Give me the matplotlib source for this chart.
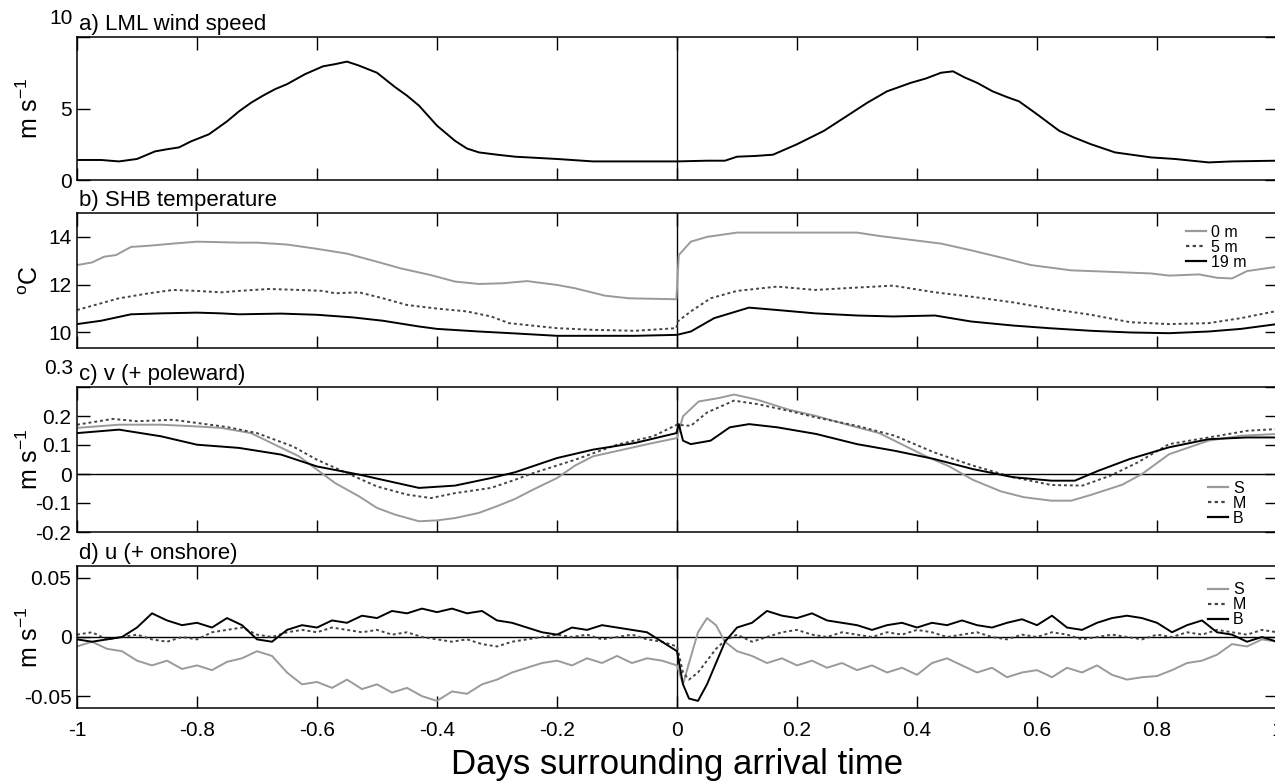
import matplotlib
matplotlib.use('Agg')
import matplotlib.pyplot as plt
import numpy as np

plt.rcParams['font.family'] = ['Liberation Sans', 'DejaVu Sans']
plt.rcParams['mathtext.default'] = 'regular'

# ---- a) LML wind speed (m/s)
wind_x = [-1.0, -0.96, -0.93, -0.9, -0.87, -0.85, -0.83, -0.81, -0.78, -0.75, -0.73, -0.71,
          -0.69, -0.67, -0.65, -0.62, -0.59, -0.57, -0.55, -0.53, -0.5, -0.47, -0.45, -0.43,
          -0.4, -0.37, -0.35, -0.33, -0.3, -0.27, -0.2, -0.14, -0.07, 0.0, 0.05, 0.08, 0.1,
          0.13, 0.16, 0.2, 0.245, 0.284, 0.317, 0.35, 0.39, 0.415, 0.44, 0.46, 0.48, 0.5,
          0.526, 0.55, 0.57, 0.6, 0.637, 0.66, 0.69, 0.73, 0.79, 0.83, 0.886, 0.925, 1.0]
wind = [1.4, 1.4, 1.3, 1.47, 2.0, 2.15, 2.28, 2.7, 3.2, 4.1, 4.8, 5.4,
        5.9, 6.35, 6.7, 7.4, 7.95, 8.1, 8.28, 8.0, 7.5, 6.5, 5.9, 5.2,
        3.8, 2.74, 2.2, 1.93, 1.77, 1.63, 1.47, 1.3, 1.3, 1.3, 1.35, 1.35, 1.63,
        1.68, 1.77, 2.5, 3.44, 4.5, 5.4, 6.2, 6.8, 7.1, 7.5, 7.6, 7.16, 6.8,
        6.2, 5.8, 5.5, 4.6, 3.44, 3.0, 2.5, 1.93, 1.58, 1.47, 1.23, 1.3, 1.35]

# ---- b) SHB temperature (deg C)
t0_x = [-1.0, -0.975, -0.955, -0.935, -0.91, -0.88, -0.84, -0.8, -0.73, -0.7, -0.65, -0.6,
        -0.55, -0.5, -0.46, -0.41, -0.37, -0.33, -0.29, -0.25, -0.2, -0.17, -0.12, -0.08, -0.001,
        0.003, 0.023, 0.05, 0.1, 0.167, 0.23, 0.3, 0.337, 0.395, 0.44, 0.49, 0.546, 0.59,
        0.657, 0.72, 0.79, 0.82, 0.87, 0.9, 0.925, 0.95, 1.0]
t0 = [12.82, 12.93, 13.17, 13.24, 13.58, 13.63, 13.72, 13.8, 13.76, 13.76, 13.68, 13.5,
      13.3, 12.96, 12.68, 12.4, 12.13, 12.03, 12.06, 12.15, 11.99, 11.85, 11.54, 11.43, 11.39,
      13.24, 13.8, 14.0, 14.18, 14.18, 14.18, 14.18, 14.04, 13.86, 13.72, 13.44, 13.1, 12.82,
      12.6, 12.54, 12.47, 12.38, 12.43, 12.29, 12.26, 12.57, 12.75]

t5_x = [-1.0, -0.93, -0.88, -0.84, -0.8, -0.76, -0.73, -0.68, -0.63, -0.59, -0.57, -0.53,
        -0.49, -0.45, -0.4, -0.35, -0.31, -0.28, -0.2, -0.14, -0.07, -0.001,
        0.001, 0.023, 0.056, 0.1, 0.167, 0.23, 0.3, 0.36, 0.43, 0.49, 0.56, 0.62, 0.69,
        0.755, 0.82, 0.886, 0.94, 1.0]
t5 = [10.94, 11.43, 11.64, 11.78, 11.74, 11.68, 11.74, 11.82, 11.78, 11.74, 11.64, 11.68,
      11.43, 11.15, 11.0, 10.88, 10.67, 10.39, 10.18, 10.11, 10.07, 10.18,
      10.46, 10.88, 11.43, 11.74, 11.92, 11.78, 11.88, 11.96, 11.68, 11.5, 11.26, 11.0, 10.74,
      10.43, 10.35, 10.39, 10.6, 10.9]

t19_x = [-1.0, -0.96, -0.91, -0.86, -0.8, -0.76, -0.73, -0.66, -0.6, -0.54, -0.49, -0.43,
         -0.4, -0.33, -0.27, -0.2, -0.14, -0.07, 0.0, 0.023, 0.062, 0.12, 0.167, 0.23, 0.3,
         0.36, 0.43, 0.49, 0.56, 0.62, 0.69, 0.755, 0.82, 0.886, 0.94, 1.0]
t19 = [10.35, 10.49, 10.76, 10.8, 10.83, 10.8, 10.76, 10.79, 10.74, 10.63, 10.49, 10.25,
       10.15, 10.04, 9.96, 9.86, 9.86, 9.86, 9.9, 10.04, 10.6, 11.04, 10.94, 10.8, 10.71,
       10.67, 10.71, 10.46, 10.29, 10.18, 10.07, 10.0, 9.97, 10.04, 10.15, 10.35]

# ---- c) v (+ poleward), m/s
vs_x = [-1.0, -0.93, -0.86, -0.8, -0.76, -0.71, -0.67, -0.63, -0.6, -0.57, -0.53, -0.5,
        -0.47, -0.43, -0.4, -0.37, -0.33, -0.3, -0.27, -0.24, -0.2, -0.17, -0.14, -0.09,
        -0.04, 0.0, 0.01, 0.036, 0.07, 0.095, 0.134, 0.186, 0.232, 0.284, 0.337, 0.376,
        0.415, 0.454, 0.493, 0.54, 0.578, 0.624, 0.657, 0.69, 0.742, 0.775, 0.82, 0.886,
        0.94, 1.0]
vs = [0.159, 0.17, 0.17, 0.164, 0.159, 0.141, 0.101, 0.061, 0.015, -0.031, -0.077, -0.117,
      -0.14, -0.163, -0.16, -0.152, -0.134, -0.111, -0.086, -0.054, -0.014, 0.029, 0.061, 0.084,
      0.107, 0.124, 0.199, 0.25, 0.262, 0.274, 0.256, 0.222, 0.2, 0.17, 0.141, 0.101,
      0.061, 0.026, -0.02, -0.06, -0.08, -0.092, -0.092, -0.072, -0.037, 0.0, 0.068, 0.115,
      0.132, 0.138]

vm_x = [-1.0, -0.94, -0.9, -0.84, -0.8, -0.75, -0.7, -0.64, -0.6, -0.55, -0.5, -0.45,
        -0.41, -0.37, -0.31, -0.27, -0.24, -0.17, -0.1, -0.04, 0.0, 0.023, 0.05, 0.095,
        0.134, 0.186, 0.232, 0.3, 0.363, 0.428, 0.493, 0.56, 0.624, 0.676, 0.722, 0.768,
        0.82, 0.886, 0.95, 1.0]
vm = [0.17, 0.19, 0.182, 0.187, 0.176, 0.162, 0.141, 0.095, 0.049, 0.003, -0.043, -0.071,
      -0.083, -0.066, -0.048, -0.02, 0.003, 0.049, 0.101, 0.13, 0.17, 0.166, 0.212, 0.253,
      0.241, 0.218, 0.195, 0.166, 0.132, 0.075, 0.029, -0.011, -0.038, -0.04, -0.006, 0.04,
      0.103, 0.126, 0.149, 0.155]

vb_x = [-1.0, -0.93, -0.86, -0.8, -0.73, -0.66, -0.6, -0.53, -0.48, -0.43, -0.37, -0.31,
        -0.27, -0.2, -0.14, -0.07, -0.001, 0.003, 0.01, 0.023, 0.056, 0.088, 0.12, 0.167,
        0.232, 0.3, 0.363, 0.428, 0.493, 0.56, 0.624, 0.663, 0.702, 0.755, 0.82, 0.886,
        0.95, 1.0]
vb = [0.141, 0.153, 0.13, 0.101, 0.09, 0.067, 0.026, -0.002, -0.025, -0.048, -0.04, -0.014,
      0.006, 0.055, 0.084, 0.107, 0.141, 0.172, 0.115, 0.103, 0.115, 0.161, 0.172, 0.161,
      0.138, 0.103, 0.08, 0.052, 0.017, -0.011, -0.023, -0.023, 0.011, 0.052, 0.092, 0.12,
      0.126, 0.126]

# ---- d) u (+ onshore), m/s
u_x = [-1.0, -0.975, -0.95, -0.925, -0.9, -0.875, -0.85, -0.825, -0.8, -0.775, -0.75,
       -0.725, -0.7, -0.675, -0.65, -0.625, -0.6, -0.575, -0.55, -0.525, -0.5, -0.475,
       -0.45, -0.425, -0.4, -0.375, -0.35, -0.325, -0.3, -0.275, -0.25, -0.225, -0.2,
       -0.175, -0.15, -0.125, -0.1, -0.075, -0.05, -0.025, 0.0,
       0.01, 0.02, 0.035, 0.05, 0.065, 0.08,
       0.1, 0.125, 0.15, 0.175, 0.2, 0.225, 0.25, 0.275, 0.3, 0.325, 0.35, 0.375, 0.4,
       0.425, 0.45, 0.475, 0.5, 0.525, 0.55, 0.575, 0.6, 0.625, 0.65, 0.675, 0.7, 0.725,
       0.75, 0.775, 0.8, 0.825, 0.85, 0.875, 0.9, 0.925, 0.95, 0.975, 1.0]
us = [-0.008, -0.004, -0.010, -0.012, -0.020, -0.024, -0.020, -0.027, -0.024, -0.028, -0.021,
      -0.018, -0.012, -0.016, -0.030, -0.040, -0.038, -0.043, -0.036, -0.044, -0.040, -0.047,
      -0.043, -0.050, -0.054, -0.046, -0.048, -0.040, -0.036, -0.030, -0.026, -0.022, -0.020,
      -0.024, -0.018, -0.022, -0.016, -0.022, -0.018, -0.020, -0.024,
      -0.040, -0.022, 0.004, 0.016, 0.010, -0.004,
      -0.012, -0.016, -0.022, -0.018, -0.024, -0.020, -0.026, -0.022, -0.028, -0.024, -0.030,
      -0.026, -0.032, -0.022, -0.018, -0.024, -0.030, -0.026, -0.034, -0.030, -0.028, -0.034,
      -0.026, -0.030, -0.024, -0.032, -0.036, -0.034, -0.033, -0.028, -0.022, -0.020, -0.015,
      -0.006, -0.008, -0.002, -0.004]
um = [0.002, 0.004, -0.002, 0.000, 0.002, -0.002, -0.004, 0.000, -0.002, 0.004, 0.006,
      0.008, 0.002, 0.000, 0.004, 0.006, 0.004, 0.008, 0.006, 0.004, 0.006, 0.002,
      0.004, 0.000, -0.002, -0.004, -0.002, -0.006, -0.008, -0.004, -0.002, 0.000, 0.002,
      0.000, 0.002, -0.002, 0.000, 0.002, -0.002, -0.004, -0.008,
      -0.030, -0.036, -0.030, -0.020, -0.010, -0.003,
      0.002, -0.004, 0.000, 0.004, 0.006, 0.002, 0.000, 0.004, 0.002, 0.000, 0.004,
      0.002, 0.006, 0.004, 0.000, 0.002, 0.004, 0.000, -0.002, 0.002, 0.000, 0.004,
      0.002, -0.002, 0.000, 0.002, 0.000, -0.002, 0.002, 0.000, 0.004, 0.002, 0.006,
      0.004, 0.002, 0.006, 0.004]
ub = [-0.002, -0.004, -0.002, 0.000, 0.008, 0.020, 0.014, 0.010, 0.012, 0.008, 0.016,
      0.010, -0.002, -0.004, 0.006, 0.010, 0.008, 0.014, 0.012, 0.018, 0.016, 0.022,
      0.020, 0.024, 0.021, 0.024, 0.020, 0.022, 0.014, 0.012, 0.008, 0.004, 0.002,
      0.008, 0.006, 0.010, 0.008, 0.006, 0.004, -0.004, -0.012,
      -0.040, -0.052, -0.054, -0.040, -0.022, -0.004,
      0.008, 0.012, 0.022, 0.018, 0.016, 0.020, 0.014, 0.012, 0.010, 0.006, 0.010,
      0.012, 0.008, 0.012, 0.010, 0.014, 0.010, 0.008, 0.012, 0.015, 0.010, 0.018,
      0.008, 0.006, 0.012, 0.016, 0.018, 0.016, 0.012, 0.004, 0.010, 0.014, 0.004,
      0.002, -0.004, 0.000, -0.004]

x_ticks = [-1, -0.8, -0.6, -0.4, -0.2, 0, 0.2, 0.4, 0.6, 0.8, 1]
x_ticklabels = ['-1', '-0.8', '-0.6', '-0.4', '-0.2', '0', '0.2', '0.4', '0.6', '0.8', '1']

GRAY = '#9a9a9a'
DOTTED = '#444444'
W, H = 1275, 781
TICK_FS = 15
YLAB_X = -0.028


def add_panel(fig, top_px, bottom_px, left_px=77, right_px=1277):
    ax = fig.add_axes([left_px / W, 1 - bottom_px / H,
                       (right_px - left_px) / W, (bottom_px - top_px) / H])
    for sp in ax.spines.values():
        sp.set_linewidth(1.1)
    ax.set_xlim(-1, 1)
    ax.set_xticks(x_ticks)
    ax.tick_params(direction='in', length=9, width=1.0, top=True, right=True,
                   labelsize=TICK_FS, pad=4)
    ax.tick_params(axis='x', pad=9)
    ax.axvline(0, color='black', lw=1.0)
    return ax


def set_yticks(ax, ticks, labels, top_label=None):
    ax.set_yticks(ticks)
    ax.set_yticklabels(labels)
    if top_label is not None:
        # top label sits above the frame, as in the original
        ax.annotate(top_label, xy=(0, 1), xycoords='axes fraction', xytext=(-3, 13),
                    textcoords='offset points', ha='right', va='center', fontsize=TICK_FS)


def set_ylabel(ax, txt):
    ax.set_ylabel(txt, fontsize=18)
    ax.yaxis.set_label_coords(YLAB_X, 0.5)


def panel_title(ax, txt):
    ax.text(0.002, 1.015, txt, transform=ax.transAxes, ha='left', va='bottom', fontsize=16)


def small_legend(ax, loc, anchor):
    leg = ax.legend(loc=loc, bbox_to_anchor=anchor, frameon=False, fontsize=11.5,
                    handlelength=1.3, handletextpad=0.3, labelspacing=0.0,
                    borderaxespad=0.0)
    for line in leg.get_lines():
        line.set_linewidth(1.6)
    return leg


fig = plt.figure(figsize=(W / 100, H / 100), dpi=100)

# a)
ax = add_panel(fig, 37, 180)
ax.plot(wind_x, wind, color='black', lw=1.4)
ax.set_ylim(0, 10)
set_yticks(ax, [0, 5, 10], ['0', '5', ''], top_label='10')
ax.set_xticklabels([])
set_ylabel(ax, 'm s$^{-1}$')
panel_title(ax, 'a) LML wind speed')

# b)
ax = add_panel(fig, 213, 348)
ax.plot(t0_x, t0, color=GRAY, lw=1.4, label='0 m')
ax.plot(t5_x, t5, color=DOTTED, lw=1.4, ls=(0, (1.5, 1.5)), label='5 m')
ax.plot(t19_x, t19, color='black', lw=1.4, label='19 m')
ax.set_ylim(9.35, 15)
set_yticks(ax, [10, 12, 14], ['10', '12', '14'])
ax.set_xticklabels([])
set_ylabel(ax, '$^{o}$C')
panel_title(ax, 'b) SHB temperature')
small_legend(ax, 'upper right', (0.98, 0.96))

# c)
ax = add_panel(fig, 387, 532)
ax.axhline(0, color='black', lw=1.0)
ax.plot(vs_x, vs, color=GRAY, lw=1.4, label='S')
ax.plot(vm_x, vm, color=DOTTED, lw=1.4, ls=(0, (1.5, 1.5)), label='M')
ax.plot(vb_x, vb, color='black', lw=1.4, label='B')
ax.set_ylim(-0.2, 0.3)
set_yticks(ax, [-0.2, -0.1, 0, 0.1, 0.2, 0.3], ['-0.2', '-0.1', '0', '0.1', '0.2', ''],
           top_label='0.3')
ax.set_xticklabels([])
set_ylabel(ax, 'm s$^{-1}$')
panel_title(ax, 'c) v (+ poleward)')
small_legend(ax, 'lower right', (0.98, 0.0))

# d)
ax = add_panel(fig, 566, 708)
ax.axhline(0, color='black', lw=1.0)
ax.plot(u_x, us, color=GRAY, lw=1.4, label='S')
ax.plot(u_x, um, color=DOTTED, lw=1.4, ls=(0, (1.5, 1.5)), label='M')
ax.plot(u_x, ub, color='black', lw=1.4, label='B')
ax.set_ylim(-0.06, 0.06)
set_yticks(ax, [-0.05, 0, 0.05], ['-0.05', '0', '0.05'])
ax.set_xticklabels(x_ticklabels)
set_ylabel(ax, 'm s$^{-1}$')
panel_title(ax, 'd) u (+ onshore)')
small_legend(ax, 'upper right', (0.98, 0.93))
ax.set_xlabel('Days surrounding arrival time', fontsize=25, labelpad=6)

fig.savefig('out.png', dpi=100)
